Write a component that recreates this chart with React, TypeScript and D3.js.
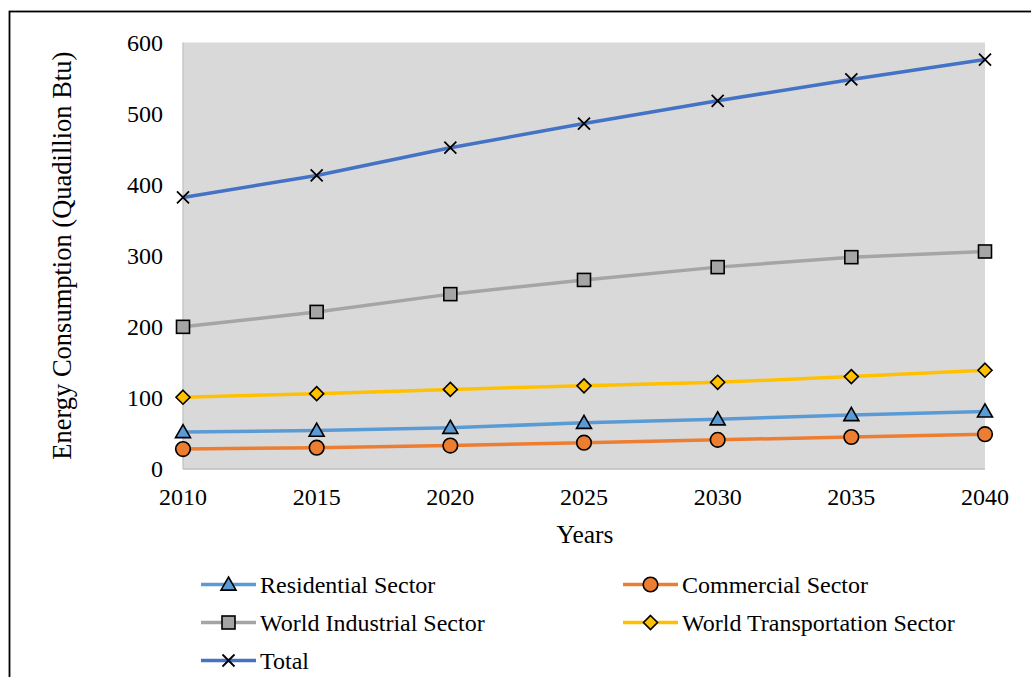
import React from "react";
import * as d3 from "d3";

const years = [2010, 2015, 2020, 2025, 2030, 2035, 2040];
const residential = [52, 54, 58, 65, 70, 76, 81];
const commercial = [28, 30, 33, 37, 41, 45, 49];
const industrial = [200, 221, 246, 266, 284, 298, 306];
const transportation = [101, 106, 112, 117, 122, 130, 139];
const total = [382, 413, 452, 486, 518, 548, 576];
const yTicks = [0, 100, 200, 300, 400, 500, 600];

const seriesNames = [
  "Residential Sector",
  "Commercial Sector",
  "World Industrial Sector",
  "World Transportation Sector",
  "Total",
];
const seriesColors = ["#5B9BD5", "#ED7D31", "#A5A5A5", "#FFC000", "#4472C4"];
const seriesMarkers = ["triangle", "circle", "square", "diamond", "x"];
const seriesValues = [residential, commercial, industrial, transportation, total];

const W = 1031;
const H = 677;
const plot = { left: 183, right: 985, top: 42.5, bottom: 469 };
const FONT = "Liberation Serif, Times New Roman, serif";

function Marker({ type, x, y, color }: { type: string; x: number; y: number; color: string }) {
  const sw = 1.6;
  if (type === "triangle") {
    const s = 7.5;
    return (
      <path
        d={`M${x},${y - s}L${x + s},${y + s * 0.75}L${x - s},${y + s * 0.75}Z`}
        fill={color}
        stroke="#000"
        strokeWidth={sw}
      />
    );
  }
  if (type === "circle") {
    return <circle cx={x} cy={y} r={7.3} fill={color} stroke="#000" strokeWidth={sw} />;
  }
  if (type === "square") {
    const s = 6.5;
    return <rect x={x - s} y={y - s} width={2 * s} height={2 * s} fill={color} stroke="#000" strokeWidth={sw} />;
  }
  if (type === "diamond") {
    const s = 7;
    return (
      <path d={`M${x},${y - s}L${x + s},${y}L${x},${y + s}L${x - s},${y}Z`} fill={color} stroke="#000" strokeWidth={sw} />
    );
  }
  const s = 6;
  return (
    <path d={`M${x - s},${y - s}L${x + s},${y + s}M${x - s},${y + s}L${x + s},${y - s}`} stroke="#000" strokeWidth={1.8} fill="none" />
  );
}

export default function App() {
  const x = d3.scaleLinear().domain([2010, 2040]).range([plot.left, plot.right]);
  const y = d3.scaleLinear().domain([0, 600]).range([plot.bottom, plot.top]);
  const line = d3
    .line<number>()
    .x((_, i) => x(years[i]))
    .y((d) => y(d));

  const legendPos = [
    { lx: 201, row: 0 },
    { lx: 623, row: 0 },
    { lx: 201, row: 1 },
    { lx: 623, row: 1 },
    { lx: 201, row: 2 },
  ];
  const rowY = [584.5, 622.5, 660.5];

  return (
    <div style={{ position: "fixed", left: 0, top: 0, width: W, height: H, background: "#fff" }}>
      <svg width={W} height={H} style={{ display: "block" }}>
        <rect x={0} y={0} width={W} height={H} fill="#fff" />
        <rect x={9.5} y={11.5} width={W + 20} height={H + 20} fill="none" stroke="#000" strokeWidth={1.8} />
        <rect
          x={plot.left}
          y={plot.top}
          width={plot.right - plot.left}
          height={plot.bottom - plot.top}
          fill="#D9D9D9"
        />
        <line x1={plot.left} x2={plot.left} y1={plot.top} y2={plot.bottom} stroke="#BFBFBF" strokeWidth={1.2} />
        <line x1={plot.left} x2={plot.right} y1={plot.bottom} y2={plot.bottom} stroke="#BFBFBF" strokeWidth={1.5} />

        {yTicks.map((t) => (
          <text key={t} x={163} y={y(t)} dy="0.35em" textAnchor="end" fontSize={24} fontFamily={FONT} fill="#000">
            {t}
          </text>
        ))}
        {years.map((yr) => (
          <text key={yr} x={x(yr)} y={505} textAnchor="middle" fontSize={24} fontFamily={FONT} fill="#000">
            {yr}
          </text>
        ))}
        <text x={585} y={543} textAnchor="middle" fontSize={25.5} fontFamily={FONT} fill="#000">
          Years
        </text>
        <text
          transform={`translate(71,${(plot.top + plot.bottom) / 2 + 0}) rotate(-90)`}
          textAnchor="middle"
          fontSize={26.5}
          fontFamily={FONT}
          fill="#000"
        >
          Energy Consumption (Quadillion Btu)
        </text>

        {seriesValues.map((vals, si) => (
          <g key={si}>
            <path d={line(vals) || ""} fill="none" stroke={seriesColors[si]} strokeWidth={3.5} strokeLinejoin="round" />
            {vals.map((v, i) => (
              <Marker key={i} type={seriesMarkers[si]} x={x(years[i])} y={y(v)} color={seriesColors[si]} />
            ))}
          </g>
        ))}

        {seriesNames.map((name, si) => {
          const p = legendPos[si];
          const ly = rowY[p.row];
          return (
            <g key={name}>
              <line x1={p.lx} x2={p.lx + 55} y1={ly} y2={ly} stroke={seriesColors[si]} strokeWidth={3.5} />
              <Marker type={seriesMarkers[si]} x={p.lx + 27.5} y={ly} color={seriesColors[si]} />
              <text x={p.lx + 59} y={ly + 8.5} fontSize={24} fontFamily={FONT} fill="#000">
                {name}
              </text>
            </g>
          );
        })}
      </svg>
    </div>
  );
}
